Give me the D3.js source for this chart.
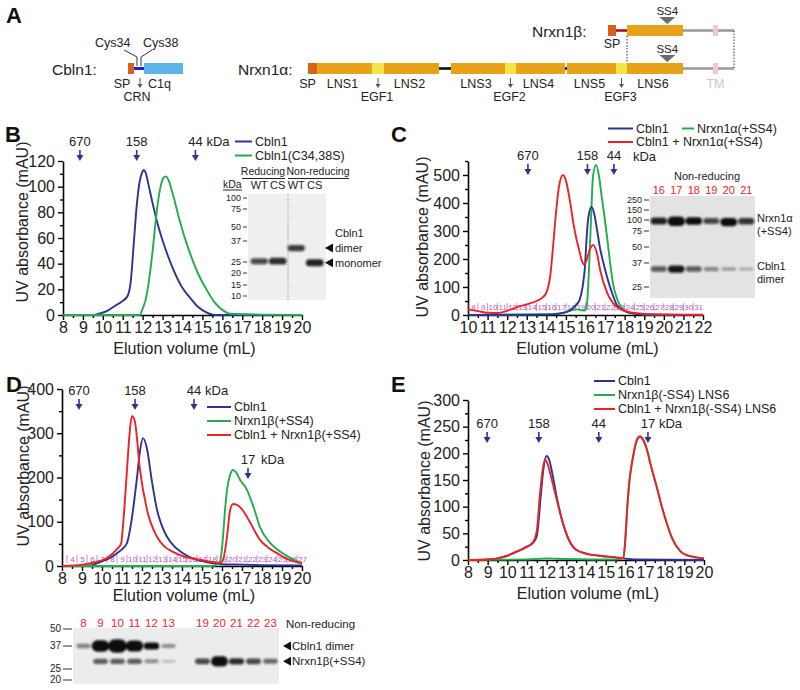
<!DOCTYPE html>
<html><head><meta charset="utf-8">
<script src="https://cdn.jsdelivr.net/npm/d3@7"></script>
<style>
body{margin:0;background:#fff}
svg{display:block}
text{font-family:"Liberation Sans",Arial,Helvetica,sans-serif}
</style>
</head><body>
<svg id="fig" width="800" height="690"></svg>
<script>
// ================= DATA =================
// Panel A – domain architecture (relative domain lengths)
const cblnDomains = ["SP","CRN","C1q"];
const cblnLengths = [6,10,39];
const alphaDomains = ["SP","LNS1","EGF1","LNS2","linker","LNS3","EGF2","LNS4","linker","LNS5","EGF3","LNS6","stalk","TM","tail"];
const alphaLengths = [9,55,12,55,12,54,11,49,2,49,11,56,30,5,16];
const betaDomains = ["SP","blinker","LNS6","stalk","TM","tail"];
const betaLengths = [8,11,56,30,5,16];

// Panel B
const xTicksB = [8,9,10,11,12,13,14,15,16,17,18,19,20];
const yTicksB = [0,20,40,60,80,100,120];
const markerLabelsB = ["670","158","44"];
const markerVolB = [8.85,11.7,14.65];
const legendB = ["Cbln1","Cbln1(C34,38S)"];
const volB_cbln1 = [8,9.5,9.8,10.2,10.6,11.0,11.25,11.4,11.55,11.7,11.85,11.97,12.05,12.15,12.3,12.5,12.7,13.0,13.5,14.0,14.35,14.8,15.2,15.6,20];
const absB_cbln1 = [0,0,1,3,7,11,15,26,55,85,104,111,113,111,101,87,74,58,37,21,14,6,2,0,0];
const volB_mut = [8,11.85,12.0,12.15,12.3,12.5,12.7,12.9,13.05,13.15,13.3,13.5,13.85,14.2,14.5,14.85,15.2,15.6,16.0,16.4,20];
const absB_mut = [0,0,5,12,25,50,80,100,107,108,105,95,74,56,43,30,20,10,4,1,0];
const gelB_lanes = ["WT","CS","WT","CS"];
const gelB_markers = [100,75,50,37,25,20,15,10];
const gelB_bandKDa = [25.5,25.5,33,24.7];
const gelB_bandAmt = [0.7,0.85,0.75,0.9];

// Panel C
const xTicksC = [10,11,12,13,14,15,16,17,18,19,20,21,22];
const yTicksC = [0,100,200,300,400,500];
const markerLabelsC = ["670","158","44"];
const markerVolC = [13.06,16.1,17.45];
const legendC = ["Cbln1","Nrxn1α(+SS4)","Cbln1 + Nrxn1α(+SS4)"];
const volC_cbln1 = [10,14,14.5,15,15.36,15.55,15.7,15.85,15.97,16.06,16.15,16.31,16.45,16.6,16.73,16.9,17.1,17.35,17.6,17.9,18.3,19,22];
const absC_cbln1 = [0,2,4,10,25,38,54,100,171,280,350,386,360,300,243,190,136,80,36,18,7,2,0];
const volC_nrxn = [10,14.5,15.0,15.3,15.55,15.8,15.95,16.05,16.12,16.2,16.3,16.38,16.53,16.68,16.83,16.97,17.1,17.25,17.4,17.6,17.8,18.1,18.5,19,22];
const absC_nrxn = [0,3,10,17,20,17,16,25,80,200,375,493,536,500,421,350,279,190,114,60,30,12,5,2,0];
const volC_mix = [10,10.5,11,11.5,12,12.5,13,13.5,13.8,14.0,14.2,14.35,14.5,14.65,14.85,15.0,15.2,15.4,15.55,15.7,15.8,15.93,16.05,16.2,16.4,16.6,16.75,17.1,17.4,17.8,18.4,19,20,22];
const absC_mix = [20,14,8,7,15,28,38,50,62,80,140,250,370,460,500,480,410,320,268,225,196,180,195,230,250,215,160,80,43,20,8,4,2,1];
const fractionsC = [8,9,10,11,12,13,14,15,16,17,18,19,20,21,22,23,24,25,26,27,28,29,30,31];
const fracStartC = 10;
const gelC_lanes = ["16","17","18","19","20","21"];
const gelC_markers = [250,150,100,75,50,37,25];
const gelC_nrxnKDa = [98,97,98,98,95,97];
const gelC_nrxnAmt = [0.9,1.4,1.0,0.7,1.15,0.8];
const gelC_dimerKDa = [34,34,34,34,34,34];
const gelC_dimerAmt = [0.6,0.95,0.6,0.35,0.2,0.12];

// Panel D
const xTicksD = [8,9,10,11,12,13,14,15,16,17,18,19,20];
const yTicksD = [0,100,200,300,400];
const markerLabelsD = ["670","158","44"];
const markerVolD = [8.85,11.65,14.6];
const marker17D = 17.3;
const legendD = ["Cbln1","Nrxn1β(+SS4)","Cbln1 + Nrxn1β(+SS4)"];
const volD_cbln1 = [8,9,9.5,9.9,10.4,10.75,11.05,11.25,11.5,11.75,11.9,12.05,12.25,12.5,12.75,13.0,13.25,13.6,14.05,14.6,15.2,16,17,18,20];
const absD_cbln1 = [0,0,2,9,18,29,40,52,110,200,260,289,265,190,127,90,66,45,29,16,9,4,3,2,1];
const volD_nrxn = [8,15.5,15.9,16.05,16.15,16.25,16.4,16.55,16.7,16.9,17.25,17.6,17.9,18.3,18.75,19.2,19.6,20];
const absD_nrxn = [0,0,9,66,125,172,205,217,212,195,172,130,88,58,38,24,14,6];
const volD_mix = [8,9,9.6,10.25,10.75,10.95,11.1,11.25,11.4,11.5,11.65,11.9,12.25,12.75,13.1,13.55,14.2,14.9,15.5,15.9,16.05,16.25,16.4,16.55,16.75,17.0,17.25,17.6,17.9,18.3,18.75,19.3,19.9,20];
const absD_mix = [0,3,8,18,38,50,120,217,310,339,325,217,127,66,45,32,20,14,9,7,14,66,125,140,138,128,111,82,59,42,29,15,7,6];
const fractionsD = [4,5,6,7,8,9,10,11,12,13,14,15,16,17,18,19,20,21,22,23,24,25,26,27];
const fracStartD = 8.25;
const gelD_lanes = ["8","9","10","11","12","13","","19","20","21","22","23"];
const gelD_markers = [50,37,25,20];
const gelD_dimerKDa = [37,37,37,37,37,37,37,37,37,37,37,37];
const gelD_dimerAmt = [0.4,2.0,2.4,1.9,1.0,0.35,0,0,0,0,0,0];
const gelD_nrxnKDa = [29,29,29,29,29,29,29,29,29,29,29,29];
const gelD_nrxnAmt = [0,0.6,0.6,0.6,0.35,0.06,0,0.7,1.7,0.85,0.7,0.55];

// Panel E
const xTicksE = [8,9,10,11,12,13,14,15,16,17,18,19,20];
const yTicksE = [0,50,100,150,200,250,300];
const markerLabelsE = ["670","158","44","17"];
const markerVolE = [8.97,11.6,14.65,17.15];
const legendE = ["Cbln1","Nrxn1β(-SS4) LNS6","Cbln1 + Nrxn1β(-SS4) LNS6"];
const volE_cbln1 = [8,9,9.5,10,10.5,11.0,11.3,11.5,11.7,11.85,12.0,12.15,12.3,12.5,12.82,13.1,13.5,14,14.7,15.5,15.9,16.5,20];
const absE_cbln1 = [0,1,3,8,16,25,32,45,120,175,195,185,160,120,70,40,19,12,8,5,3,1,0];
const volE_lns6 = [8,11,12,13,15.5,15.9,16.0,16.1,16.2,16.4,16.6,16.75,16.9,17.1,17.3,17.6,17.85,18.1,18.4,18.8,19.2,19.6,20];
const absE_lns6 = [0,1,3,2,1,4,38,98,144,194,225,231,225,206,176,136,101,70,39,16,8,5,3];
const volE_mix = [8,9,9.5,10,10.5,11.0,11.3,11.5,11.65,11.8,11.92,12.05,12.2,12.4,12.82,13.1,13.5,14,14.7,15.5,15.9,16.0,16.1,16.2,16.4,16.6,16.75,16.9,17.1,17.3,17.6,17.85,18.1,18.4,18.8,19.2,19.6,20];
const absE_mix = [0,1,3,8,16,25,33,55,120,170,188,180,160,130,70,40,19,12,8,5,3,40,100,146,196,227,232,226,207,177,137,101,70,39,16,8,5,3];

// ================= DRAWING =================
const svg = d3.select("#fig");
const NAVY = "#2b3590", GREEN = "#1fae4b", RED = "#ec2227", MAG = "#b55abf", LRED = "#e8262b", INK = "#222";

const defs = svg.append("defs");
defs.append("filter").attr("id","blur").attr("x","-50%").attr("y","-100%").attr("width","200%").attr("height","300%")
  .append("feGaussianBlur").attr("stdDeviation",1.1);

function txt(g, x, y, s, o = {}) {
  const t = g.append("text").attr("x", x).attr("y", y).text(s)
    .attr("font-size", o.size || 13).attr("fill", o.fill || INK)
    .attr("text-anchor", o.anchor || "start");
  if (o.weight) t.attr("font-weight", o.weight);
  return t;
}
function downArrow(g, x, y1, y2, color, w) {
  g.append("line").attr("x1", x).attr("x2", x).attr("y1", y1).attr("y2", y2 - 4)
    .attr("stroke", color).attr("stroke-width", w || 1.6);
  g.append("path").attr("d", `M${x-3.5},${y2-6}L${x+3.5},${y2-6}L${x},${y2}Z`).attr("fill", color);
}
function styleAxis(sel, fs) {
  sel.select(".domain").attr("stroke", "#000").attr("stroke-width", 1.6);
  sel.selectAll(".tick line").attr("stroke", "#000").attr("stroke-width", 1.4);
  sel.selectAll(".tick text").attr("font-size", fs || 16).attr("fill", INK)
    .attr("font-family", '"Liberation Sans",Arial,sans-serif');
}

function chrom(c) {
  const g = svg.append("g");
  const x = d3.scaleLinear().domain(c.xDom).range([c.left, c.right]);
  const y = d3.scaleLinear().domain(c.yDom).range([c.bottom, c.top]);

  const xMinor = d3.range(c.xDom[0] + 0.5, c.xDom[1], 1);
  const gxm = g.append("g").attr("transform", `translate(0,${c.bottom})`)
    .call(d3.axisBottom(x).tickValues(xMinor).tickSize(3).tickFormat("").tickSizeOuter(0));
  gxm.select(".domain").remove(); styleAxis(gxm);
  const yMinor = d3.range(c.yMinor, c.yDom[1] + 0.001, c.yMinor).filter(v => c.yTicks.indexOf(v) < 0);
  const gym = g.append("g").attr("transform", `translate(${c.left},0)`)
    .call(d3.axisLeft(y).tickValues(yMinor).tickSize(3).tickFormat("").tickSizeOuter(0));
  gym.select(".domain").remove(); styleAxis(gym);

  const gx = g.append("g").attr("transform", `translate(0,${c.bottom})`)
    .call(d3.axisBottom(x).tickValues(c.xTicks).tickSize(5).tickPadding(2).tickSizeOuter(0).tickFormat(d3.format("d")));
  styleAxis(gx);
  const gy = g.append("g").attr("transform", `translate(${c.left},0)`)
    .call(d3.axisLeft(y).tickValues(c.yTicks).tickSize(5).tickPadding(3).tickSizeOuter(0).tickFormat(d3.format("d")));
  styleAxis(gy);

  txt(g, (c.left + c.right) / 2 + 2, c.xTitleY, "Elution volume (mL)", {size: 16, anchor: "middle"});
  txt(g, 0, 0, "UV absorbance (mAU)", {size: 16, anchor: "middle"})
    .attr("transform", `translate(${c.yTitleX},${c.yTitleMid}) rotate(-90)`);

  if (c.fractions) {
    const fg = g.append("g");
    c.fractions.forEach((n, i) => {
      const x0 = x(c.fracStart + i * 0.5), x1 = x(c.fracStart + (i + 1) * 0.5);
      fg.append("line").attr("x1", x0).attr("x2", x0).attr("y1", c.fracY - 4).attr("y2", c.fracY + 4)
        .attr("stroke", MAG).attr("stroke-width", 0.7);
      txt(fg, (x0 + x1) / 2 + 0.5, c.fracY + 2.8, String(n), {size: 8, fill: MAG, anchor: "middle"});
    });
  }

  const line = d3.line().x(d => x(d[0])).y(d => y(d[1])).curve(d3.curveMonotoneX);
  c.series.forEach(s => {
    g.append("path").datum(d3.zip(s.vol, s.abs)).attr("d", line)
      .attr("fill", "none").attr("stroke", s.color).attr("stroke-width", 1.9).attr("stroke-linejoin", "round");
  });

  c.markers.labels.forEach((lab, i) => {
    const mx = x(c.markers.vols[i]);
    txt(g, mx, c.markers.textY, lab, {size: 13, anchor: "middle"});
    downArrow(g, mx, c.markers.textY + 4, c.markers.textY + 15, NAVY);
  });
  c.markers.units.forEach(u => {
    txt(g, x(u.vol) + u.dx, u.y, "kDa", {size: 13});
  });

  c.legend.forEach(l => {
    g.append("line").attr("x1", l.x).attr("x2", l.x + l.len).attr("y1", l.y).attr("y2", l.y)
      .attr("stroke", l.color).attr("stroke-width", 2);
    txt(g, l.x + l.len + 3, l.y + 4.3, l.label, {size: 12.5});
  });
  return {x, y, g};
}

function drawGel(c) {
  const g = svg.append("g");
  g.append("rect").attr("x", c.x0).attr("y", c.y0).attr("width", c.x1 - c.x0).attr("height", c.y1 - c.y0)
    .attr("fill", c.bg);
  const lane = d3.scaleBand().domain(d3.range(c.lanes.length)).range([c.x0 + (c.padL || 0), c.x1 - (c.padR || 0)]);
  const ky = d3.scaleLinear().domain(c.markers).range(c.markerY);
  c.markers.forEach(m => {
    g.append("line").attr("x1", c.x0 - c.dash).attr("x2", c.x0 - 1).attr("y1", ky(m)).attr("y2", ky(m))
      .attr("stroke", "#333").attr("stroke-width", 1);
    txt(g, c.x0 - c.dash - 2, ky(m) + 3.2, String(m), {size: c.markSize || 9.5, anchor: "end"});
  });
  const bg = g.append("g").attr("filter", "url(#blur)");
  c.bands.forEach(b => {
    b.kDa.forEach((k, i) => {
      const a = b.amt[i];
      if (!a) return;
      const cx = lane(i) + lane.bandwidth() / 2;
      const h = 2.5 + b.hs * a;
      const w = lane.bandwidth() * b.ws + 2.2 * Math.min(a, 2.5);
      bg.append("rect").attr("x", cx - w / 2).attr("y", ky(k) - h / 2).attr("width", w).attr("height", h)
        .attr("rx", Math.min(h / 2, w / 2)).attr("fill", "#111").attr("opacity", Math.min(1, 0.15 + 0.85 * a));
    });
  });
  if (c.laneLabelY) {
    c.lanes.forEach((l, i) => {
      if (!l) return;
      txt(g, lane(i) + lane.bandwidth() / 2, c.laneLabelY, l, {size: c.laneSize || 11, fill: c.laneColor || INK, anchor: "middle"});
    });
  }
  return {lane, ky, g};
}

// ---------- Panel letters ----------
[["A",6,23],["B",5,142],["C",391,142],["D",6,392],["E",391,392]].forEach(p =>
  txt(svg, p[1], p[2], p[0], {size: 22, weight: "bold", fill: "#111"}));

// ---------- Panel A ----------
(function () {
  const g = svg.append("g");
  const colorOf = n => n === "SP" ? "#d5611b" : n.startsWith("LNS") ? "#e8a21a" : n.startsWith("EGF") ? "#f3e44c" :
    n === "C1q" ? "#5cb5e9" : n === "TM" ? "#f2c5dc" : null;
  const lineOf = n => n === "linker" ? "#111" : n === "blinker" ? "#a3141d" : n === "CRN" ? "#1f1fcf" : "#9b9b9b";

  function bar(names, lens, scale, offset, yTop, h) {
    let acc = offset; const pos = {};
    names.forEach((n, i) => {
      const x0 = scale(acc), x1 = scale(acc + lens[i]);
      const col = colorOf(n);
      if (col) {
        g.append("rect").attr("x", x0).attr("y", yTop).attr("width", x1 - x0).attr("height", h).attr("fill", col);
      } else {
        g.append("line").attr("x1", x0).attr("x2", x1).attr("y1", yTop + h / 2).attr("y2", yTop + h / 2)
          .attr("stroke", lineOf(n)).attr("stroke-width", n === "CRN" ? 3 : 2.6);
      }
      pos[n + "_" + i] = [x0, x1];
      acc += lens[i];
    });
    return pos;
  }
  function smallArrow(x, y1, y2) {
    g.append("line").attr("x1", x).attr("x2", x).attr("y1", y1).attr("y2", y2 - 3).attr("stroke", "#555").attr("stroke-width", 1);
    g.append("path").attr("d", `M${x-2.5},${y2-4}L${x+2.5},${y2-4}L${x},${y2}Z`).attr("fill", "#555");
  }

  txt(g, 52, 75, "Cbln1:", {size: 15.5});
  const cs = d3.scaleLinear().domain([0, d3.sum(cblnLengths)]).range([128, 183]);
  bar(cblnDomains, cblnLengths, cs, 0, 63, 11);
  const c34 = cs(cblnLengths[0] + 3), c38 = cs(cblnLengths[0] + 7);
  g.append("path").attr("d", `M124,50L${c34},57L${c34},66`).attr("fill", "none").attr("stroke", "#333").attr("stroke-width", 1);
  g.append("path").attr("d", `M152,50L${c38},57L${c38},66`).attr("fill", "none").attr("stroke", "#333").attr("stroke-width", 1);
  txt(g, 95, 47, "Cys34", {size: 12.5});
  txt(g, 143, 47, "Cys38", {size: 12.5});
  txt(g, 122, 88, "SP", {size: 12.5, anchor: "middle"});
  smallArrow(140, 78, 88);
  txt(g, 148, 88, "C1q", {size: 12.5});
  txt(g, 137, 101, "CRN", {size: 12.5, anchor: "middle"});

  txt(g, 238, 75, "Nrxn1α:", {size: 15.5});
  const as = d3.scaleLinear().domain([0, d3.sum(alphaLengths)]).range([308, 734]);
  const ap = bar(alphaDomains, alphaLengths, as, 0, 63, 11);
  alphaDomains.forEach((n, i) => {
    const [x0, x1] = ap[n + "_" + i]; const cx = (x0 + x1) / 2;
    if (n === "SP") txt(g, cx - 5, 88, "SP", {size: 12.5, anchor: "middle"});
    else if (n.startsWith("LNS")) txt(g, cx - 2, 88, n, {size: 12.5, anchor: "middle"});
    else if (n.startsWith("EGF")) { smallArrow(cx, 78, 88); txt(g, cx - 1, 101, n, {size: 12.5, anchor: "middle"}); }
    else if (n === "TM") txt(g, cx, 88, "TM", {size: 12.5, anchor: "middle", fill: "#d7bfcc"});
  });

  txt(g, 532, 37, "Nrxn1β:", {size: 15.5});
  const betaOffset = d3.sum(alphaLengths.slice(0, 11)) - betaLengths[0] - betaLengths[1];
  const bp = bar(betaDomains, betaLengths, as, betaOffset, 25, 11);
  txt(g, (bp["SP_0"][0] + bp["SP_0"][1]) / 2, 48, "SP", {size: 12.5, anchor: "middle"});

  const lns6x = ap["LNS6_11"][0], endx = as(d3.sum(alphaLengths));
  g.append("line").attr("x1", lns6x).attr("x2", lns6x).attr("y1", 36).attr("y2", 63)
    .attr("stroke", "#333").attr("stroke-width", 1).attr("stroke-dasharray", "1.5,1.5");
  g.append("line").attr("x1", endx).attr("x2", endx).attr("y1", 30.5).attr("y2", 68.5)
    .attr("stroke", "#333").attr("stroke-width", 1).attr("stroke-dasharray", "1.5,1.5");

  const ssx = lns6x + (ap["LNS6_11"][1] - lns6x) * 0.72;
  [[15, 17], [53, 55]].forEach(p => {
    txt(g, ssx, p[0], "SS4", {size: 11.5, anchor: "middle"});
    g.append("path").attr("d", `M${ssx-8},${p[1]}L${ssx+8},${p[1]}L${ssx},${p[1]+7}Z`).attr("fill", "#6b6b6b");
  });
})();

// ---------- Panel B ----------
chrom({
  xDom: [8, 20], yDom: [0, 120], left: 63, right: 302, top: 161, bottom: 315,
  xTicks: xTicksB, yTicks: yTicksB, yMinor: 10,
  xTitleY: 354, yTitleX: 28, yTitleMid: 222,
  series: [{vol: volB_cbln1, abs: absB_cbln1, color: NAVY}, {vol: volB_mut, abs: absB_mut, color: GREEN}],
  markers: {labels: markerLabelsB, vols: markerVolB, textY: 146, units: [{vol: 14.65, dx: 11, y: 146}]},
  legend: [{x: 235, y: 141.5, len: 17, color: NAVY, label: legendB[0]},
           {x: 235, y: 155.5, len: 17, color: GREEN, label: legendB[1]}]
});
(function () {
  const gl = drawGel({
    x0: 248, x1: 326, y0: 194, y1: 300, bg: "#efefef", dash: 5, padL: 2, padR: 2, markSize: 9,
    lanes: gelB_lanes, markers: gelB_markers, markerY: [198, 209, 227, 241, 262, 273, 285, 296],
    bands: [{kDa: gelB_bandKDa, amt: gelB_bandAmt, hs: 5, ws: 0.85}]
  });
  const g = gl.g;
  g.append("line").attr("x1", 288).attr("x2", 288).attr("y1", 194).attr("y2", 300)
    .attr("stroke", "#666").attr("stroke-width", 0.8).attr("stroke-dasharray", "1,1.5");
  txt(g, 263, 175, "Reducing", {size: 10.5, anchor: "middle"});
  txt(g, 318, 175, "Non-reducing", {size: 10.5, anchor: "middle"});
  g.append("line").attr("x1", 242).attr("x2", 285).attr("y1", 178.5).attr("y2", 178.5).attr("stroke", "#222");
  g.append("line").attr("x1", 288).attr("x2", 349).attr("y1", 178.5).attr("y2", 178.5).attr("stroke", "#222");
  txt(g, 223, 187.5, "kDa", {size: 10.5});
  g.append("line").attr("x1", 223).attr("x2", 242).attr("y1", 190).attr("y2", 190).attr("stroke", "#222");
  gelB_lanes.forEach((l, i) => txt(g, gl.lane(i) + gl.lane.bandwidth() / 2, 189, l, {size: 11, anchor: "middle"}));
  const tri = (x, y) => g.append("path").attr("d", `M${x},${y}L${x+8},${y-4.5}L${x+8},${y+4.5}Z`).attr("fill", "#111");
  txt(g, 335, 237, "Cbln1", {size: 11});
  tri(325, gl.ky(gelB_bandKDa[2])); txt(g, 335, gl.ky(gelB_bandKDa[2]) + 4, "dimer", {size: 11});
  tri(325, gl.ky(gelB_bandKDa[3])); txt(g, 335, gl.ky(gelB_bandKDa[3]) + 4, "monomer", {size: 11});
})();

// ---------- Panel C ----------
chrom({
  xDom: [10, 22], yDom: [0, 550], left: 468, right: 703, top: 161, bottom: 315,
  xTicks: xTicksC, yTicks: yTicksC, yMinor: 50,
  xTitleY: 354, yTitleX: 428, yTitleMid: 237,
  fractions: fractionsC, fracStart: fracStartC, fracY: 307,
  series: [{vol: volC_nrxn, abs: absC_nrxn, color: GREEN}, {vol: volC_cbln1, abs: absC_cbln1, color: NAVY},
           {vol: volC_mix, abs: absC_mix, color: RED}],
  markers: {labels: markerLabelsC, vols: markerVolC, textY: 160, units: [{vol: 17.45, dx: 19, y: 161}]},
  legend: [{x: 608, y: 128.5, len: 25, color: NAVY, label: legendC[0]},
           {x: 682, y: 128.5, len: 12, color: GREEN, label: legendC[1]},
           {x: 608, y: 142, len: 25, color: RED, label: legendC[2]}]
});
(function () {
  const gl = drawGel({
    x0: 650, x1: 755, y0: 196, y1: 298, bg: "#e3e3e3", dash: 6, markSize: 9,
    lanes: gelC_lanes, markers: gelC_markers, markerY: [200, 210, 220, 231, 247, 263, 287],
    laneLabelY: 194, laneColor: LRED, laneSize: 11,
    bands: [{kDa: gelC_nrxnKDa, amt: gelC_nrxnAmt, hs: 5, ws: 0.82},
            {kDa: gelC_dimerKDa, amt: gelC_dimerAmt, hs: 5, ws: 0.82}]
  });
  const g = gl.g;
  txt(g, 707, 180, "Non-reducing", {size: 11, anchor: "middle"});
  txt(g, 757, 222, "Nrxn1α", {size: 11});
  txt(g, 757, 235, "(+SS4)", {size: 11});
  txt(g, 757, 270, "Cbln1", {size: 11});
  txt(g, 757, 283, "dimer", {size: 11});
})();

// ---------- Panel D ----------
(function () {
  const r = chrom({
    xDom: [8, 20], yDom: [0, 400], left: 62, right: 302, top: 389, bottom: 566,
    xTicks: xTicksD, yTicks: yTicksD, yMinor: 50,
    xTitleY: 601, yTitleX: 29, yTitleMid: 466,
    fractions: fractionsD, fracStart: fracStartD, fracY: 559,
    series: [{vol: volD_cbln1, abs: absD_cbln1, color: NAVY}, {vol: volD_nrxn, abs: absD_nrxn, color: GREEN},
             {vol: volD_mix, abs: absD_mix, color: RED}],
    markers: {labels: markerLabelsD, vols: markerVolD, textY: 395, units: [{vol: 14.6, dx: 11, y: 395}]},
    legend: [{x: 207, y: 407, len: 24, color: NAVY, label: legendD[0]},
             {x: 207, y: 421, len: 24, color: GREEN, label: legendD[1]},
             {x: 207, y: 435, len: 24, color: RED, label: legendD[2]}]
  });
  const mx = r.x(marker17D);
  txt(r.g, mx, 464, "17", {size: 13, anchor: "middle"});
  txt(r.g, mx + 13, 464, "kDa", {size: 13});
  downArrow(r.g, mx, 468, 479, NAVY);

  const gl = drawGel({
    x0: 73, x1: 279, y0: 628, y1: 684, bg: "#ececec", dash: 10, padL: 2, padR: 0, markSize: 10,
    lanes: gelD_lanes, markers: gelD_markers, markerY: [629, 646, 669, 680],
    laneLabelY: 627, laneColor: LRED, laneSize: 11.5,
    bands: [{kDa: gelD_dimerKDa, amt: gelD_dimerAmt, hs: 4.5, ws: 0.78},
            {kDa: gelD_nrxnKDa, amt: gelD_nrxnAmt, hs: 4.5, ws: 0.78}]
  });
  const g = gl.g;
  txt(g, 286, 628, "Non-reducing", {size: 11.5});
  const tri = (x, y) => g.append("path").attr("d", `M${x},${y}L${x+8},${y-4.5}L${x+8},${y+4.5}Z`).attr("fill", "#111");
  tri(283, gl.ky(37)); txt(g, 292, gl.ky(37) + 4, "Cbln1 dimer", {size: 11.5});
  tri(283, gl.ky(29)); txt(g, 292, gl.ky(29) + 4, "Nrxn1β(+SS4)", {size: 11.5});
})();

// ---------- Panel E ----------
chrom({
  xDom: [8, 20], yDom: [0, 300], left: 468, right: 704, top: 400, bottom: 560,
  xTicks: xTicksE, yTicks: yTicksE, yMinor: 25,
  xTitleY: 599, yTitleX: 430, yTitleMid: 481,
  series: [{vol: volE_cbln1, abs: absE_cbln1, color: NAVY}, {vol: volE_lns6, abs: absE_lns6, color: GREEN},
           {vol: volE_mix, abs: absE_mix, color: RED}],
  markers: {labels: markerLabelsE, vols: markerVolE, textY: 428, units: [{vol: 17.15, dx: 11, y: 428}]},
  legend: [{x: 594, y: 381, len: 21, color: NAVY, label: legendE[0]},
           {x: 594, y: 395, len: 21, color: GREEN, label: legendE[1]},
           {x: 594, y: 409, len: 21, color: RED, label: legendE[2]}]
});
</script>
</body></html>
